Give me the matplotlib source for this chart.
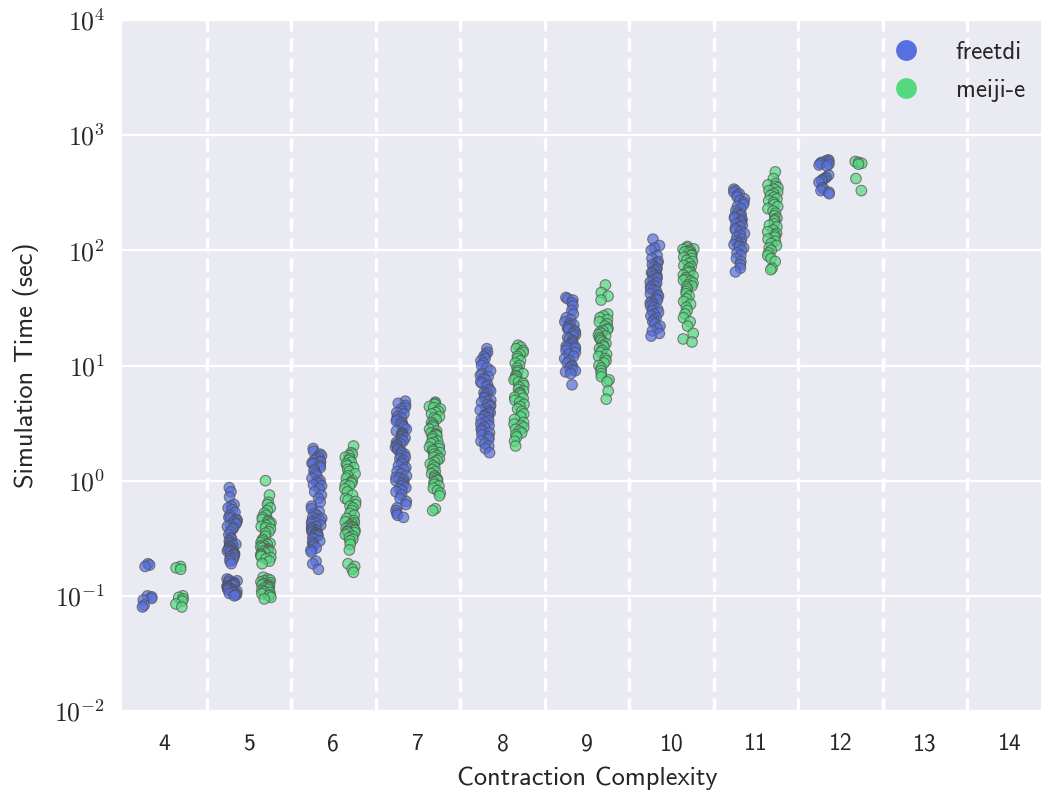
import os
import numpy as np
import pandas as pd
import matplotlib
matplotlib.use("Agg")
import matplotlib.pyplot as plt
from matplotlib import font_manager
from matplotlib.lines import Line2D
from matplotlib.ticker import FuncFormatter, NullLocator
import seaborn as sns

COMPLEXITY = [4, 5, 6, 7, 8, 9, 10, 11, 12, 13, 14]
SOLVERS = ["freetdi", "meiji-e"]
COLORS = ["#5670de", "#55d97f"]

# simulation time (sec) per contraction complexity
FREETDI = {
    4: [0.19, 0.185, 0.18, 0.1, 0.098, 0.095, 0.092, 0.083, 0.08],
    5: [0.87, 0.8, 0.72, 0.62, 0.6, 0.58, 0.56, 0.53, 0.5, 0.48, 0.47, 0.46, 0.45, 0.44, 0.43,
        0.42, 0.41, 0.4, 0.39, 0.38, 0.36, 0.34, 0.32, 0.31, 0.3, 0.29, 0.285, 0.28, 0.275,
        0.27, 0.265, 0.26, 0.255, 0.25, 0.248, 0.245, 0.242, 0.24, 0.235, 0.23, 0.228, 0.225,
        0.22, 0.215, 0.21, 0.205, 0.2, 0.19, 0.14, 0.137, 0.135, 0.132, 0.13, 0.128, 0.126,
        0.125, 0.123, 0.122, 0.12, 0.119, 0.118, 0.116, 0.115, 0.113, 0.112, 0.11, 0.109,
        0.108, 0.106, 0.105, 0.103, 0.102, 0.1],
    6: [1.9, 1.8, 1.7, 1.65, 1.6, 1.55, 1.5, 1.47, 1.45, 1.42, 1.4, 1.35, 1.3, 1.25, 1.2, 1.15,
        1.1, 1.05, 1.0, 0.97, 0.95, 0.92, 0.9, 0.85, 0.8, 0.75, 0.7, 0.65, 0.6, 0.57, 0.54,
        0.52, 0.5, 0.48, 0.47, 0.46, 0.45, 0.44, 0.43, 0.42, 0.41, 0.4, 0.39, 0.38, 0.37, 0.365,
        0.36, 0.355, 0.35, 0.345, 0.34, 0.335, 0.33, 0.32, 0.31, 0.3, 0.29, 0.28, 0.27, 0.26,
        0.25, 0.24, 0.2, 0.19, 0.17],
    7: [4.9, 4.7, 4.5, 4.3, 4.2, 4.0, 3.9, 3.8, 3.6, 3.5, 3.4, 3.3, 3.2, 3.1, 3.0, 2.9, 2.8,
        2.7, 2.6, 2.55, 2.5, 2.45, 2.4, 2.35, 2.3, 2.25, 2.2, 2.15, 2.1, 2.05, 2.0, 1.95, 1.9,
        1.85, 1.8, 1.75, 1.7, 1.65, 1.6, 1.55, 1.5, 1.45, 1.4, 1.35, 1.3, 1.25, 1.2, 1.15, 1.1,
        1.07, 1.05, 1.02, 1.0, 0.97, 0.95, 0.92, 0.9, 0.87, 0.85, 0.82, 0.8, 0.75, 0.7, 0.66,
        0.62, 0.58, 0.55, 0.52, 0.5, 0.48],
    8: [14, 13, 12.5, 12, 11.5, 11, 10.5, 10, 9.5, 9, 8.5, 8.2, 8, 7.7, 7.5, 7.2, 7, 6.8, 6.5,
        6.2, 6, 5.8, 5.7, 5.5, 5.3, 5.2, 5, 4.9, 4.8, 4.6, 4.5, 4.4, 4.2, 4.1, 4, 3.9, 3.8,
        3.7, 3.6, 3.5, 3.4, 3.3, 3.2, 3.1, 3, 2.9, 2.8, 2.7, 2.6, 2.5, 2.4, 2.3, 2.2, 2.1, 2.0,
        1.9, 1.75],
    9: [39, 38, 37, 35, 33, 30, 28, 26, 25, 24, 23, 22.5, 22, 21.5, 21, 20.5, 20, 19.5, 19,
        18.5, 18, 17.5, 17, 16.5, 16, 15.5, 15, 14.7, 14.5, 14.2, 14, 13.5, 13, 12.5, 12, 11.5,
        11, 10.5, 10, 9.8, 9.5, 9.2, 9, 8.8, 8.5, 6.8],
    10: [125, 110, 105, 100, 90, 85, 80, 77, 75, 72, 70, 68, 66, 64, 63, 61, 60, 58, 57, 55,
         53, 52, 50, 49, 48, 46, 45, 44, 42, 41, 40, 38, 37, 36, 35, 34, 33, 32, 31, 30, 29,
         28, 27, 26, 25, 24, 23, 22, 21, 20, 19, 18],
    11: [340, 330, 320, 310, 300, 290, 280, 270, 260, 250, 240, 230, 220, 210, 205, 200, 195,
         190, 185, 180, 175, 170, 165, 160, 155, 150, 145, 140, 135, 130, 125, 120, 117, 115,
         112, 110, 107, 105, 100, 95, 90, 85, 80, 75, 70, 65],
    12: [610, 600, 590, 580, 570, 560, 550, 540, 450, 430, 420, 410, 400, 390, 350, 340, 330,
         320, 310],
}

MEIJI = {
    4: [0.18, 0.175, 0.17, 0.1, 0.097, 0.094, 0.09, 0.085, 0.08],
    5: [1.0, 0.75, 0.65, 0.62, 0.58, 0.55, 0.52, 0.5, 0.48, 0.46, 0.45, 0.44, 0.43, 0.42, 0.41,
        0.4, 0.39, 0.38, 0.36, 0.35, 0.33, 0.31, 0.3, 0.29, 0.285, 0.28, 0.275, 0.27, 0.265,
        0.26, 0.255, 0.25, 0.248, 0.245, 0.242, 0.24, 0.235, 0.23, 0.225, 0.22, 0.215, 0.21,
        0.2, 0.19, 0.145, 0.14, 0.137, 0.135, 0.132, 0.13, 0.127, 0.125, 0.124, 0.122, 0.12,
        0.118, 0.117, 0.114, 0.112, 0.11, 0.108, 0.107, 0.104, 0.102, 0.1, 0.097, 0.094],
    6: [2.0, 1.75, 1.7, 1.65, 1.6, 1.55, 1.5, 1.45, 1.4, 1.35, 1.3, 1.25, 1.2, 1.15, 1.1, 1.05,
        1.0, 0.97, 0.95, 0.92, 0.9, 0.85, 0.8, 0.75, 0.7, 0.68, 0.66, 0.62, 0.6, 0.58, 0.55,
        0.52, 0.5, 0.47, 0.45, 0.44, 0.43, 0.42, 0.41, 0.4, 0.395, 0.39, 0.385, 0.38, 0.375,
        0.37, 0.365, 0.36, 0.355, 0.35, 0.34, 0.33, 0.32, 0.31, 0.3, 0.28, 0.25, 0.19, 0.18,
        0.17, 0.16],
    7: [4.8, 4.7, 4.6, 4.4, 4.3, 4.2, 4.0, 3.9, 3.8, 3.6, 3.5, 3.4, 3.2, 3.1, 3.0, 2.9, 2.8,
        2.7, 2.6, 2.55, 2.5, 2.45, 2.4, 2.3, 2.2, 2.15, 2.1, 2.0, 1.95, 1.9, 1.85, 1.8, 1.75,
        1.7, 1.65, 1.6, 1.55, 1.5, 1.45, 1.4, 1.35, 1.3, 1.25, 1.2, 1.15, 1.1, 1.07, 1.05, 1.02,
        1.0, 0.97, 0.93, 0.9, 0.86, 0.82, 0.78, 0.74, 0.57, 0.55],
    8: [15, 14.5, 14, 13.5, 13, 12.5, 12, 11.5, 11, 10.5, 10, 9.5, 9, 8.7, 8.5, 8.2, 8, 7.7,
        7.5, 7.2, 7, 6.7, 6.5, 6.2, 6, 5.8, 5.7, 5.5, 5.3, 5.2, 5, 4.8, 4.6, 4.4, 4.2, 4, 3.8,
        3.6, 3.4, 3.2, 3.1, 3.0, 2.9, 2.8, 2.7, 2.6, 2.5, 2.4, 2.2, 2.0],
    9: [50, 43, 40, 37, 28, 27, 26, 25, 24, 23, 22, 21, 20.5, 20, 19.5, 19, 18.5, 18, 17.5, 17,
        16.5, 16, 15.5, 15, 14.5, 14, 13.5, 13, 12.5, 12, 11.5, 11, 10.5, 10, 9.5, 9, 8.5, 8,
        7.5, 7.2, 6.0, 5.1],
    10: [108, 105, 103, 102, 100, 98, 97, 95, 92, 90, 87, 85, 82, 80, 77, 74, 72, 70, 67, 65,
         64, 61, 60, 58, 56, 55, 54, 52, 50, 49, 48, 46, 44, 42, 40, 38, 36, 34, 32, 30, 28,
         26, 24, 22, 19, 17, 16],
    11: [480, 420, 380, 370, 360, 350, 340, 330, 320, 310, 300, 290, 280, 270, 260, 250, 240,
         230, 220, 210, 200, 190, 185, 180, 170, 165, 160, 150, 145, 140, 135, 130, 125, 120,
         115, 110, 105, 100, 95, 90, 85, 80, 70, 68],
    12: [590, 580, 570, 560, 420, 330],
}

TICKSIZE = 17
LABELSIZE = 19
LEGENDSIZE = 18


def build_frame():
    rows = []
    for solver, table in zip(SOLVERS, [FREETDI, MEIJI]):
        for cc, times in table.items():
            for t in times:
                rows.append({"cc": cc, "time": t, "solver": solver})
    return pd.DataFrame(rows)


def main():
    sns.set_style("darkgrid")
    fpath = os.path.join(matplotlib.get_data_path(), "fonts", "ttf", "cmss10.ttf")
    font_manager.fontManager.addfont(fpath)
    plt.rcParams["font.family"] = ["cmss10", "DejaVu Sans"]
    plt.rcParams["mathtext.fontset"] = "cm"
    plt.rcParams["axes.unicode_minus"] = False

    df = build_frame()

    fig = plt.figure(figsize=(10.41, 7.92), dpi=100)
    W, H = 1041.0, 792.0
    ax = fig.add_axes([122 / W, (H - 711) / H, (1052 - 122) / W, (711 - 20) / H])
    ax.set_facecolor("#eaeaf2")

    np.random.seed(3)
    sns.stripplot(data=df, x="cc", y="time", hue="solver", order=COMPLEXITY,
                  hue_order=SOLVERS, palette=COLORS, dodge=True, jitter=0.13,
                  size=7.6, alpha=0.7, linewidth=0.8, edgecolor="#505050",
                  legend=False, ax=ax, zorder=3)

    ax.set_yscale("log")
    ax.set_ylim(1e-2, 1e4)
    ax.set_xlim(-0.5, len(COMPLEXITY) - 0.5)
    ax.yaxis.set_minor_locator(NullLocator())
    ax.yaxis.set_major_formatter(FuncFormatter(lambda v, p: r"$10^{%d}$" % round(np.log10(v))))

    ax.grid(False)
    ax.yaxis.grid(True, color="white", linewidth=1.6)
    for i in range(len(COMPLEXITY) - 1):
        ax.axvline(i + 0.5, color="white", linewidth=2.4, linestyle=(0, (4, 2)), zorder=1)

    for s in ax.spines.values():
        s.set_visible(False)
    ax.tick_params(axis="both", length=0, labelsize=TICKSIZE, colors="#262626")
    ax.tick_params(axis="y", labelsize=18.5, pad=12)
    ax.tick_params(axis="x", pad=16)

    ax.set_xlabel("Contraction Complexity", fontsize=LABELSIZE, color="#262626", labelpad=8)
    ax.set_ylabel("Simulation Time (sec)", fontsize=LABELSIZE, color="#262626", labelpad=11)

    handles = [Line2D([], [], linestyle="none", marker="o", markersize=15,
                      markerfacecolor=c, markeredgewidth=0) for c in COLORS]
    fig.legend(handles, SOLVERS, loc="upper right", bbox_to_anchor=(1035 / W, (H - 31) / H),
               frameon=False, fontsize=LEGENDSIZE, handletextpad=1.0, labelspacing=0.6,
               borderaxespad=0)

    fig.savefig("out.png", dpi=100)
    plt.close(fig)


if __name__ == "__main__":
    main()
